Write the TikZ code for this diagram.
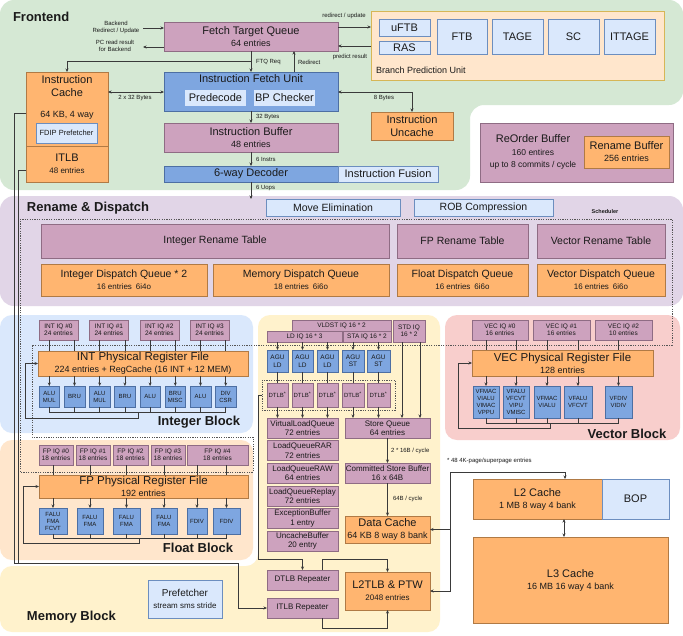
\documentclass[tikz,border=0pt]{standalone}
\usepackage{fontspec}
\setmainfont{Liberation Sans}
\usetikzlibrary{arrows.meta}
\definecolor{greenbg}{HTML}{D5E8D4}
\definecolor{renbg}{HTML}{E1D5E7}
\definecolor{intbg}{HTML}{DAE8FC}
\definecolor{fltbg}{HTML}{FFE6CC}
\definecolor{membg}{HTML}{FFF2CC}
\definecolor{vecbg}{HTML}{F8CECC}
\definecolor{pinkf}{HTML}{CDA2BE}
\definecolor{pinkd}{HTML}{8F6C84}
\definecolor{oranf}{HTML}{FFB570}
\definecolor{orand}{HTML}{B07A45}
\definecolor{bluef}{HTML}{7EA6E0}
\definecolor{blued}{HTML}{4D6FA3}
\definecolor{lbf}{HTML}{DAE8FC}
\definecolor{lbd}{HTML}{6C8EBF}
\definecolor{bpuf}{HTML}{FFE6CC}
\definecolor{bpud}{HTML}{D6B656}
\definecolor{lined}{HTML}{3A3A3A}
\definecolor{schd}{HTML}{555555}
\definecolor{txt}{HTML}{1A1A1A}
\newcommand\szB{\fontsize{13}{15}\selectfont\bfseries}
\newcommand\szT{\fontsize{11}{12.5}\selectfont}
\newcommand\szP{\fontsize{11.5}{13}\selectfont}
\newcommand\szR{\fontsize{10.5}{12}\selectfont}
\newcommand\szS{\fontsize{9}{10.5}\selectfont}
\newcommand\szQ{\fontsize{8}{9.3}\selectfont}
\newcommand\szX{\fontsize{6.5}{7.5}\selectfont}
\newcommand\szU{\fontsize{6}{7}\selectfont}
\newcommand\szL{\fontsize{6}{7}\selectfont}
\newcommand\bx[7]{\node[#6, minimum width={(#4-#2)*1pt}, minimum height={(#5-#3)*1pt}] (#1) at ({(#2+#4)/2},{(#3+#5)/2}) {#7};}
\begin{document}
\begin{tikzpicture}[x=1pt,y=-1pt,
 box/.style={inner sep=0pt,outer sep=0pt,align=center,text=txt,line width=0.6pt},
 pinkbox/.style={box,fill=pinkf,draw=pinkd},
 orbox/.style={box,fill=oranf,draw=orand},
 bluebox/.style={box,fill=bluef,draw=blued},
 lbbox/.style={box,fill=lbf,draw=lbd},
 lbplain/.style={box,fill=lbf},
 bpubox/.style={box,fill=bpuf,draw=bpud},
 conn/.style={draw=lined,line width=0.6pt},
 arr/.style={conn,-{Stealth[length=3.5pt,width=3pt]}},
 darr/.style={conn,{Stealth[length=3.5pt,width=3pt]}-{Stealth[length=3.5pt,width=3pt]}},
 lbl/.style={inner sep=0pt,outer sep=0pt,text=txt,align=center},
 sched/.style={draw=schd,line width=0.6pt,dash pattern=on 1.2pt off 1.2pt}]
\useasboundingbox (0,0) rectangle (683,635);
\fill[white] (0,0) rectangle (683,635);
% ---------- backgrounds
\fill[greenbg,rounded corners=14pt] (0,0) -- (683,0) -- (683,105) -- (470,105) -- (470,190) -- (0,190) -- cycle;
\fill[renbg,rounded corners=14pt] (0,196) rectangle (683,306);
\fill[intbg,rounded corners=12pt] (0,315) rectangle (253,433);
\fill[fltbg,rounded corners=12pt] (0,440) rectangle (253,560);
\fill[vecbg,rounded corners=12pt] (445,315) rectangle (680,440);
\fill[membg,rounded corners=12pt] (258,315) -- (440,315) -- (440,632) -- (0,632) -- (0,566) -- (258,566) -- cycle;
% ---------- titles
\node[lbl,font=\szB,anchor=west] (tfront) at (13,17) {Frontend};
\node[lbl,font=\szB,anchor=west] (tren) at (27,208) {Rename \& Dispatch};
\node[lbl,font=\szB] (tint) at (199,422) {Integer Block};
\node[lbl,font=\szB] (tflt) at (198,548) {Float Block};
\node[lbl,font=\szB] (tvec) at (627,434) {Vector Block};
\node[lbl,font=\szB,anchor=west] (tmem) at (27,617) {Memory Block};
% ---------- Frontend
\bx{ftq}{164}{22}{338}{51}{pinkbox}{{\szT Fetch Target Queue}\\{\szS 64 entries}}
\bx{ifu}{164}{72}{338}{111}{bluebox}{}
\node[lbl,font=\szT] (ifut) at (251,79) {Instruction Fetch Unit};
\bx{pred}{185}{90}{246}{106}{lbplain,font=\szT}{Predecode}
\bx{bpc}{254}{90}{315}{106}{lbplain,font=\szT}{BP Checker}
\bx{ib}{164}{123}{338}{152}{pinkbox}{{\szT Instruction Buffer}\\{\szS 48 entries}}
\bx{dec}{164}{166}{338}{182}{bluebox,font=\szT}{6-way Decoder}
\bx{fus}{338}{166}{438}{182}{lbbox,font=\szT}{Instruction Fusion}
\bx{icache}{26}{72}{108}{146}{orbox}{}
\node[lbl,font=\szT] (ict) at (67,86) {Instruction\\Cache};
\node[lbl,font=\szS] (icsz) at (67,115) {64 KB, 4 way};
\bx{fdip}{36}{123}{97}{143}{lbbox,font=\fontsize{7.5}{9}\selectfont}{FDIP Prefetcher}
\bx{itlb}{26}{146}{108}{182}{orbox}{{\szT ITLB}\\{\szQ 48 entries}}
\bx{unc}{371}{112}{453}{140}{orbox,font=\szT}{Instruction\\Uncache}
\bx{bpu}{371}{11}{664}{80}{bpubox}{}
\node[lbl,font=\szS,anchor=west] (bput) at (376,70) {Branch Prediction Unit};
\bx{uftb}{379}{19}{430}{36}{lbbox,font=\szT}{uFTB}
\bx{ras}{379}{41}{430}{54}{lbbox,font=\szT}{RAS}
\bx{ftb}{437}{19}{487}{54}{lbbox,font=\szT}{FTB}
\bx{tage}{492}{19}{543}{54}{lbbox,font=\szT}{TAGE}
\bx{sc}{548}{19}{599}{54}{lbbox,font=\szT}{SC}
\bx{ittage}{604}{19}{655}{54}{lbbox,font=\szT}{ITTAGE}
\bx{rob}{480}{123}{673}{182}{pinkbox}{}
\node[lbl] (robt) at (533,152) {{\szT ReOrder Buffer}\\[1pt]{\fontsize{8.5}{9}\selectfont 160 entires}\\{\fontsize{8.5}{9}\selectfont up to 8 commits / cycle}};
\bx{rnb}{584}{136}{669}{168}{orbox}{{\szT Rename Buffer}\\{\szS 256 entries}}
% frontend connectors
\node[lbl,font=\szL] (lbbr) at (116,27) {Backend\\Redirect / Update};
\coordinate (bkin) at (143,28);
\draw[arr] (bkin) -- (bkin -| ftq.west);
\node[lbl,font=\szL] (lpc) at (115,46) {PC read result\\for Backend};
\coordinate (pcout) at (143,47);
\draw[arr] (pcout -| ftq.west) -- (pcout);
\node[lbl,font=\szL] (lru) at (344,16) {redirect / update};
\coordinate (ru) at (0,27);
\draw[arr] (ru -| ftq.east) -- (ru -| bpu.west);
\coordinate (pr) at (0,46);
\draw[arr] (pr -| bpu.west) -- (pr -| ftq.east);
\node[lbl,font=\szL] (lpr) at (350,57) {predict result};
\coordinate (fq) at (251,61);
\draw[arr] (ftq.south) -- (ifu.north);
\draw[arr] (fq) -| (icache.north);
\node[lbl,font=\szL,anchor=west] (lfq) at (256,62) {FTQ Req};
\draw[arr] ([xshift=43pt]ifu.north) -- ([xshift=43pt]ftq.south);
\node[lbl,font=\szL,anchor=west] (lrd) at (298,62) {Redirect};
\coordinate (b2) at (0,92);
\draw[darr] (b2 -| icache.east) -- (b2 -| ifu.west);
\node[lbl,font=\szL] (l232) at (135,98) {2 x 32 Bytes};
\draw[darr] (b2 -| ifu.east) -| (unc.north);
\node[lbl,font=\szL] (l8b) at (384,98) {8 Bytes};
\draw[arr] (ifu.south) -- (ib.north);
\node[lbl,font=\szL,anchor=west] (l32) at (256,117) {32 Bytes};
\draw[arr] (ib.south) -- (dec.north);
\node[lbl,font=\szL,anchor=west] (l6i) at (256,159) {6 Instrs};
\coordinate (uops) at (251,199);
\draw[arr] (dec.south) -- (uops);
\node[lbl,font=\szL,anchor=west] (l6u) at (256,188) {6 Uops};
% ---------- Rename & Dispatch
\bx{mov}{266}{199}{400}{216}{lbbox,font=\szR}{Move Elimination}
\bx{robc}{414}{199}{553}{216}{lbbox,font=\szR}{ROB Compression}
\draw[sched] (20,219) -- (672,219) -- (672,345) -- (32,345) -- (32,437) -- (253,437) -- (253,472) -- (20,472) -- cycle;
\node[lbl,font=\fontsize{5.5}{6}\selectfont\bfseries] (lsch) at (605,212) {Scheduler};
\bx{irt}{41}{224}{389}{258}{pinkbox,font=\szR}{Integer Rename Table}
\bx{frt}{397}{224}{528}{258}{pinkbox,font=\szR}{FP Rename Table}
\bx{vrt}{537}{224}{665}{258}{pinkbox,font=\szR}{Vector Rename Table}
\bx{idq}{41}{264}{207}{296}{orbox}{{\szR Integer Dispatch Queue * 2}\\{\szQ 16 entries\enspace 6i4o}}
\bx{mdq}{213}{264}{389}{296}{orbox}{{\szR Memory Dispatch Queue}\\{\szQ 18 entries\enspace 6i6o}}
\bx{fdq}{397}{264}{528}{296}{orbox}{{\szR Float Dispatch Queue}\\{\szQ 16 entries\enspace 6i6o}}
\bx{vdq}{537}{264}{665}{296}{orbox}{{\szR Vector Dispatch Queue}\\{\szQ 16 entries\enspace 6i6o}}
% ---------- Integer block
\foreach \i in {0,...,3} {
  \pgfmathsetmacro\xa{39+50.4*\i}
  \pgfmathsetmacro\xb{\xa+39}
  \bx{iiq\i}{\xa}{320}{\xb}{340}{pinkbox,font=\szX}{INT IQ \#\i\\24 entries}
}
\bx{iprf}{38}{351}{248}{376}{orbox}{{\szP INT Physical Register File}\\{\szS 224 entries + RegCache (16 INT + 12 MEM)}}
\foreach \i/\t in {0/{ALU\\MUL},1/{BRU},2/{ALU\\MUL},3/{BRU},4/{ALU},5/{BRU\\MISC},6/{ALU},7/{DIV\\CSR}} {
  \pgfmathsetmacro\xa{39+25.2*\i}
  \pgfmathsetmacro\xb{\xa+20.6}
  \bx{iu\i}{\xa}{386}{\xb}{407}{bluebox,font=\szU}{\t}
}
\foreach \i in {0,...,7} {
  \pgfmathtruncatemacro\j{\i/2}
  \draw[conn] (iiq\j.south -| iu\i) -- (iprf.north -| iu\i);
  \draw[arr] (iprf.south -| iu\i) -- (iu\i.north);
  \draw[conn] (iu\i.south) -- ++(0,5);
}
\draw[conn] ([yshift=-5pt]iu0.south) -- ([yshift=-5pt]iu7.south);
\coordinate (iwb) at (138,412);
\draw[arr] (iwb) -- (138,418) -- (25,418) |- (iprf.west);
% ---------- Float block
\foreach \i/\xa/\xb in {0/39/73,1/76/110,2/113/148,3/151/185,4/187/248} {
  \bx{fiq\i}{\xa}{445}{\xb}{465}{pinkbox,font=\szX}{FP IQ \#\i\\18 entries}
}
\bx{fprf}{39}{475}{248}{498}{orbox}{{\szP FP Physical Register File}\\{\szS 192 entries}}
\foreach \i/\xa/\xb/\t in {0/39/67/{FALU\\FMA\\FCVT},1/77/103/{FALU\\FMA},2/113/140/{FALU\\FMA},3/151/177/{FALU\\FMA},4/187/207/{FDIV},5/213/240/{FDIV}} {
  \bx{fu\i}{\xa}{508}{\xb}{534}{bluebox,font=\szU}{\t}
}
\foreach \i/\j in {0/0,1/1,2/2,3/3,4/4,5/4} {
  \draw[conn] (fiq\j.south -| fu\i) -- (fprf.north -| fu\i);
  \draw[arr] (fprf.south -| fu\i) -- (fu\i.north);
  \draw[conn] (fu\i.south) -- ++(0,4);
}
\draw[conn] ([yshift=-4pt]fu0.south) -- ([yshift=-4pt]fu5.south);
\coordinate (fwb) at (139,538);
\draw[arr] (fwb) -- (139,543) -- (23,543) |- (fprf.west);
% ---------- Vector block
\foreach \i/\xa/\xb/\n in {0/472/528/16,1/533/590/16,2/595/652/10} {
  \bx{viq\i}{\xa}{320}{\xb}{340}{pinkbox,font=\szX}{VEC IQ \#\i\\\n\ entries}
}
\bx{vprf}{472}{350}{653}{376}{orbox}{{\szP VEC Physical Register File}\\{\szS 128 entries}}
\foreach \i/\xa/\xb/\t in {0/473/499/{VFMAC\\VIALU\\VIMAC\\VPPU},1/503/529/{VFALU\\VFCVT\\VIPU\\VMISC},2/534/560/{VFMAC\\VIALU},3/564/592/{VFALU\\VFCVT},4/605/632/{VFDIV\\VIDIV}} {
  \bx{vu\i}{\xa}{386}{\xb}{418}{bluebox,font=\szU}{\t}
}
\foreach \i/\j in {0/0,1/0,2/1,3/1,4/2} {
  \draw[conn] (viq\j.south -| vu\i) -- (vprf.north -| vu\i);
  \draw[arr] (vprf.south -| vu\i) -- (vu\i.north);
  \draw[conn] (vu\i.south) -- ++(0,5);
}
\draw[conn] ([yshift=-5pt]vu0.south) -- ([yshift=-5pt]vu4.south);
\coordinate (vwb) at (550,423);
\draw[arr] (vwb) -- (550,428) -- (458,428) |- (vprf.west);
% ---------- Memory block
\bx{vldst}{292}{320}{391}{331}{pinkbox,font=\szX}{VLDST IQ 16 * 2}
\bx{ldiq}{267}{331}{342}{342}{pinkbox,font=\szX}{LD IQ 16 * 3}
\bx{staiq}{343}{331}{391}{342}{pinkbox,font=\szX}{STA IQ 16 * 2}
\bx{stdiq}{393}{320}{425}{342}{pinkbox,font=\szX}{STD IQ\\16 * 2}
\node[sched,minimum width=133pt,minimum height=30pt,inner sep=0pt] (dtlbgrp) at (328.5,395) {};
\foreach \i/\xa/\xb/\t in {0/267/288/LD,1/292/313/LD,2/317/338/LD,3/342/364/ST,4/367/390/ST} {
  \bx{agu\i}{\xa}{350}{\xb}{372}{bluebox,font=\szX}{AGU\\\t}
  \bx{dtlb\i}{\xa}{383}{\xb}{407}{pinkbox,font=\szU}{DTLB\textsuperscript{*}}
  \draw[conn] (agu\i.south) -- (dtlb\i.north);
}
\bx{vlq}{267}{418}{338}{438}{pinkbox,font=\szQ}{VirtualLoadQueue\\72 entries}
\bx{rar}{267}{440.6}{338}{460.6}{pinkbox,font=\szQ}{LoadQueueRAR\\72 entries}
\bx{raw}{267}{463.2}{338}{483.2}{pinkbox,font=\szQ}{LoadQueueRAW\\64 entries}
\bx{rep}{267}{485.8}{338}{505.8}{pinkbox,font=\szQ}{LoadQueueReplay\\72 entries}
\bx{exb}{267}{508.4}{338}{528.4}{pinkbox,font=\szQ}{ExceptionBuffer\\1 entry}
\bx{ucb}{267}{531}{338}{551}{pinkbox,font=\szQ}{UncacheBuffer\\20 entry}
\bx{sq}{345}{418}{430}{438}{pinkbox,font=\szQ}{Store Queue\\64 entries}
\bx{csb}{345}{463}{430}{483}{pinkbox,font=\szQ}{Committed Store Buffer\\16 x 64B}
\bx{dc}{345}{516}{430}{543}{orbox}{{\szT Data Cache}\\{\szS 64 KB 8 way 8 bank}}
\bx{l2tlb}{345}{572}{430}{610}{orbox}{{\szT L2TLB \& PTW}\\{\szQ 2048 entries}}
\bx{dtr}{267}{570}{338}{590}{pinkbox,font=\szQ}{DTLB Repeater}
\bx{itr}{267}{598}{338}{618}{pinkbox,font=\szQ}{ITLB Repeater}
\bx{pf}{148}{580}{222}{618}{lbbox}{{\fontsize{10}{11.5}\selectfont Prefetcher}\\{\szQ stream sms stride}}
\foreach \i in {0,1,2} {
  \draw[arr] (ldiq.south -| agu\i) -- (agu\i.north);
  \draw[arr] (dtlb\i.south) -- (vlq.north -| dtlb\i);
}
\foreach \i in {3,4} {
  \draw[arr] (staiq.south -| agu\i) -- (agu\i.north);
  \draw[arr] (dtlb\i.south) -- (sq.north -| dtlb\i);
}
\draw[arr] ([xshift=-7pt]stdiq.south) -- ([xshift=-7pt]stdiq.south |- sq.north);
\draw[arr] ([xshift=11pt]stdiq.south) -- ([xshift=11pt]stdiq.south |- sq.north);
\draw[arr] (sq.south) -- (csb.north);
\node[lbl,font=\szL,anchor=west] (l216) at (391,451) {2 * 16B / cycle};
\draw[arr] (csb.south) -- (dc.north);
\node[lbl,font=\szL,anchor=west] (l64) at (393,499) {64B / cycle};
\coordinate (dtrin) at (302.5,559);
\draw[arr] (dtlbgrp.west) -- (258,395) |- (dtrin) -- (dtr.north);
\draw[arr] ([xshift=19.5pt]dtr.north) -- ++(0,-11) -| (l2tlb.north);
\draw[arr] ([xshift=19.5pt]itr.south) -- ++(0,10) -| (l2tlb.south);
\draw[arr] ([yshift=-4pt]icache.west) -- (14,113) -- (14,563) -- (238,563) |- (itr.west);
\draw[conn] ([yshift=-6pt]itlb.west) -- (18,170) -- (18,563);
% ---------- L2 / L3
\bx{l2}{473}{479}{602}{519}{orbox}{{\szT L2 Cache}\\{\szS 1 MB 8 way 4 bank}}
\bx{bop}{602}{479}{669}{519}{lbbox,font=\szT}{BOP}
\bx{l3}{473}{537}{668}{623}{orbox}{{\szT L3 Cache}\\{\szS 16 MB 16 way 4 bank}}
\node[lbl,font=\szL,anchor=west] (l48) at (447,461) {* 48 4K-page/superpage entries};
\coordinate (tr) at (450,472);
\draw[arr] (tr) -| ([xshift=27.5pt]l2.north);
\draw[arr] (tr) |- (dc.east);
\draw[arr] (tr) |- (l2tlb.east);
\coordinate (c564) at (564,0);
\draw[darr] (l2.south -| c564) -- (l3.north -| c564);
\end{tikzpicture}
\end{document}
